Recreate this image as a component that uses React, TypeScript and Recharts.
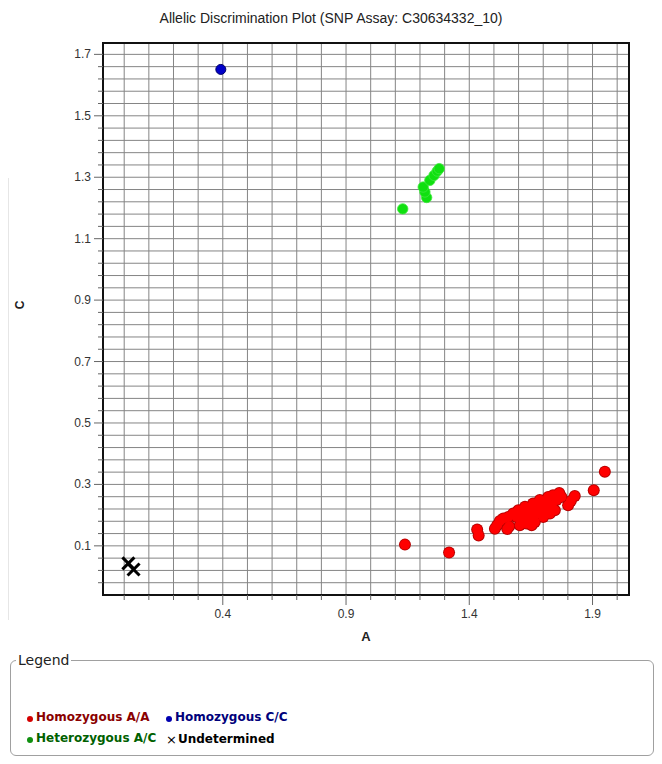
import React from 'react';
import { ScatterChart, Scatter, XAxis, YAxis, CartesianGrid, ReferenceArea } from 'recharts';

const titleText = 'Allelic Discrimination Plot (SNP Assay: C30634332_10)';
const xAxisTitle = 'A';
const yAxisTitle = 'C';
const legendTitle = 'Legend';

const homozygousAA = [
  { x: 1.139, y: 0.104 }, { x: 1.318, y: 0.078 }, { x: 1.432, y: 0.153 }, { x: 1.438, y: 0.134 },
  { x: 1.504, y: 0.156 }, { x: 1.513, y: 0.167 }, { x: 1.524, y: 0.181 }, { x: 1.538, y: 0.189 },
  { x: 1.554, y: 0.155 }, { x: 1.562, y: 0.164 }, { x: 1.558, y: 0.194 }, { x: 1.578, y: 0.205 },
  { x: 1.592, y: 0.194 }, { x: 1.599, y: 0.216 }, { x: 1.612, y: 0.184 }, { x: 1.619, y: 0.205 },
  { x: 1.626, y: 0.227 }, { x: 1.632, y: 0.173 }, { x: 1.643, y: 0.194 }, { x: 1.649, y: 0.218 },
  { x: 1.659, y: 0.238 }, { x: 1.666, y: 0.178 }, { x: 1.673, y: 0.205 }, { x: 1.68, y: 0.227 },
  { x: 1.686, y: 0.249 }, { x: 1.7, y: 0.194 }, { x: 1.703, y: 0.218 }, { x: 1.711, y: 0.24 },
  { x: 1.72, y: 0.259 }, { x: 1.727, y: 0.205 }, { x: 1.734, y: 0.232 }, { x: 1.74, y: 0.265 },
  { x: 1.754, y: 0.249 }, { x: 1.765, y: 0.272 }, { x: 1.774, y: 0.259 }, { x: 1.747, y: 0.216 },
  { x: 1.605, y: 0.167 }, { x: 1.653, y: 0.167 }, { x: 1.801, y: 0.232 }, { x: 1.812, y: 0.246 },
  { x: 1.828, y: 0.262 }, { x: 1.905, y: 0.281 }, { x: 1.95, y: 0.341 },
];

const heterozygousAC = [
  { x: 1.13, y: 1.197 }, { x: 1.227, y: 1.234 }, { x: 1.22, y: 1.252 }, { x: 1.213, y: 1.268 },
  { x: 1.24, y: 1.29 }, { x: 1.257, y: 1.306 }, { x: 1.27, y: 1.32 }, { x: 1.278, y: 1.328 },
];

const homozygousCC = [{ x: 0.392, y: 1.651 }];

const undetermined = [{ x: 0.017, y: 0.043 }, { x: 0.038, y: 0.023 }];

const xDomain = [-0.086, 2.048];
const yDomain = [-0.06, 1.737];

const xTicks = [0, 0.1, 0.2, 0.3, 0.4, 0.5, 0.6, 0.7, 0.8, 0.9, 1.0, 1.1, 1.2, 1.3, 1.4, 1.5, 1.6, 1.7, 1.8, 1.9, 2.0];
const xTickLabels = [0.4, 0.9, 1.4, 1.9];
const yTicks = [
  -0.02, 0.02, 0.06, 0.1, 0.14, 0.18, 0.22, 0.26, 0.3, 0.34, 0.38, 0.42, 0.46, 0.5, 0.54, 0.58,
  0.62, 0.66, 0.7, 0.74, 0.78, 0.82, 0.86, 0.9, 0.94, 0.98, 1.02, 1.06, 1.1, 1.14, 1.18, 1.22,
  1.26, 1.3, 1.34, 1.38, 1.42, 1.46, 1.5, 1.54, 1.58, 1.62, 1.66, 1.7,
];
const yTickLabels = [0.1, 0.3, 0.5, 0.7, 0.9, 1.1, 1.3, 1.5, 1.7];

const legendItems = [
  { label: 'Homozygous A/A', color: '#8a0000', dot: '#d40000', kind: 'dot' },
  { label: 'Homozygous C/C', color: '#00007a', dot: '#0000b0', kind: 'dot' },
  { label: 'Heterozygous A/C', color: '#006000', dot: '#109010', kind: 'dot' },
  { label: 'Undetermined', color: '#000000', dot: '#000000', kind: 'cross' },
];

const isIn = (list: number[], v: number) => list.some((l) => Math.abs(l - v) < 1e-6);

const XTick = (props: any) => {
  const { x, y, payload } = props;
  const v = payload.value;
  const labeled = isIn(xTickLabels, v);
  const len = labeled ? 10 : 5;
  return (
    <g>
      <line x1={x} y1={y} x2={x} y2={y + len} stroke="#666" strokeWidth={1} />
      {labeled && (
        <text x={x} y={y + 23} textAnchor="middle" fontSize={12} fontFamily="Liberation Sans, Arial, sans-serif" fill="#333">
          {v.toFixed(1)}
        </text>
      )}
    </g>
  );
};

const YTick = (props: any) => {
  const { x, y, payload } = props;
  const v = payload.value;
  const labeled = isIn(yTickLabels, v);
  const len = labeled ? 9 : 5;
  return (
    <g>
      <line x1={x - len} y1={y} x2={x} y2={y} stroke="#666" strokeWidth={1} />
      {labeled && (
        <text x={x - 12} y={y + 4} textAnchor="end" fontSize={12} fontFamily="Liberation Sans, Arial, sans-serif" fill="#333">
          {v.toFixed(1)}
        </text>
      )}
    </g>
  );
};

const RedOutline = (p: any) => <circle cx={p.cx} cy={p.cy} r={6} fill="#b80000" />;
const RedFill = (p: any) => <circle cx={p.cx} cy={p.cy} r={5} fill="#ff0000" />;
const GreenDot = (p: any) => <circle cx={p.cx} cy={p.cy} r={5.2} fill="#10e010" stroke="#40e840" strokeWidth={0.8} />;
const BlueDot = (p: any) => <circle cx={p.cx} cy={p.cy} r={5} fill="#0000c8" stroke="#00006a" strokeWidth={1} />;
const CrossMark = (p: any) => (
  <g stroke="#000" strokeWidth={3}>
    <line x1={p.cx - 6} y1={p.cy - 6} x2={p.cx + 6} y2={p.cy + 6} />
    <line x1={p.cx - 6} y1={p.cy + 6} x2={p.cx + 6} y2={p.cy - 6} />
  </g>
);

export default function App() {
  const font = 'Liberation Sans, Arial, sans-serif';
  return (
    <div style={{ position: 'absolute', left: 0, top: 0, width: 662, height: 764, background: '#fff', overflow: 'hidden' }}>
      <div style={{ position: 'absolute', left: 0, top: 10, width: 662, textAlign: 'center', fontFamily: font, fontSize: 14, color: '#222' }}>
        {titleText}
      </div>
      <div style={{ position: 'absolute', left: 8, top: 178, width: 1, height: 442, background: '#e6e6e6' }} />
      <div style={{ position: 'absolute', left: 0, top: 0 }}>
        <ScatterChart width={662} height={660} margin={{ top: 43, right: 33, bottom: 15, left: 43 }}>
          <CartesianGrid stroke="#858585" strokeWidth={1} />
          <XAxis
            type="number"
            dataKey="x"
            domain={xDomain}
            ticks={xTicks}
            interval={0}
            allowDataOverflow
            height={50}
            axisLine={false}
            tickLine={false}
            tickSize={0}
            tickMargin={0}
            tick={<XTick />}
            label={{
              content: (p: any) => (
                <text x={p.viewBox.x + p.viewBox.width / 2} y={p.viewBox.y + 46} textAnchor="middle" fontSize={13} fontWeight="bold" fontFamily={font} fill="#222">
                  {xAxisTitle}
                </text>
              ),
            }}
          />
          <YAxis
            type="number"
            dataKey="y"
            domain={yDomain}
            ticks={yTicks}
            interval={0}
            allowDataOverflow
            width={60}
            axisLine={false}
            tickLine={false}
            tickSize={0}
            tickMargin={0}
            tick={<YTick />}
            label={{
              content: () => (
                <text x={20} y={305} transform="rotate(-90, 20, 305)" textAnchor="middle" dominantBaseline="central" fontSize={12} fontWeight="bold" fontFamily={font} fill="#222">
                  {yAxisTitle}
                </text>
              ),
            }}
          />
          <Scatter data={homozygousAA} shape={RedOutline} isAnimationActive={false} />
          <Scatter data={homozygousAA} shape={RedFill} isAnimationActive={false} />
          <Scatter data={heterozygousAC} shape={GreenDot} isAnimationActive={false} />
          <Scatter data={homozygousCC} shape={BlueDot} isAnimationActive={false} />
          <Scatter data={undetermined} shape={CrossMark} isAnimationActive={false} />
          <ReferenceArea x1={xDomain[0]} x2={xDomain[1]} y1={yDomain[0]} y2={yDomain[1]} fill="none" fillOpacity={0} stroke="#111" strokeWidth={2} ifOverflow="visible" />
        </ScatterChart>
      </div>
      <div style={{ position: 'absolute', left: 10, top: 660, width: 644, height: 96, border: '1px solid #a0a0a0', borderRadius: 6, boxSizing: 'border-box' }} />
      <div style={{ position: 'absolute', left: 16, top: 652, padding: '0 2px', background: '#fff', fontFamily: 'DejaVu Sans, Verdana, sans-serif', fontSize: 14, color: '#222', lineHeight: '16px' }}>
        {legendTitle}
      </div>
      {legendItems.map((it, i) => (
        <div
          key={it.label}
          style={{
            position: 'absolute',
            left: i % 2 === 0 ? 27 : 166,
            top: i < 2 ? 709 : 730,
            display: 'flex',
            alignItems: 'center',
            fontFamily: 'DejaVu Sans, Verdana, sans-serif',
            fontWeight: 'bold',
            fontSize: 12,
            color: it.color,
            lineHeight: '16px',
            whiteSpace: 'nowrap',
          }}
        >
          {it.kind === 'dot' ? (
            <span style={{ display: 'inline-block', width: 6, height: 6, borderRadius: '50%', background: it.dot, marginRight: 3, marginTop: 4 }} />
          ) : (
            <span style={{ fontWeight: 'normal', fontSize: 13, marginRight: 1, marginTop: 2 }}>×</span>
          )}
          {it.label}
        </div>
      ))}
    </div>
  );
}
